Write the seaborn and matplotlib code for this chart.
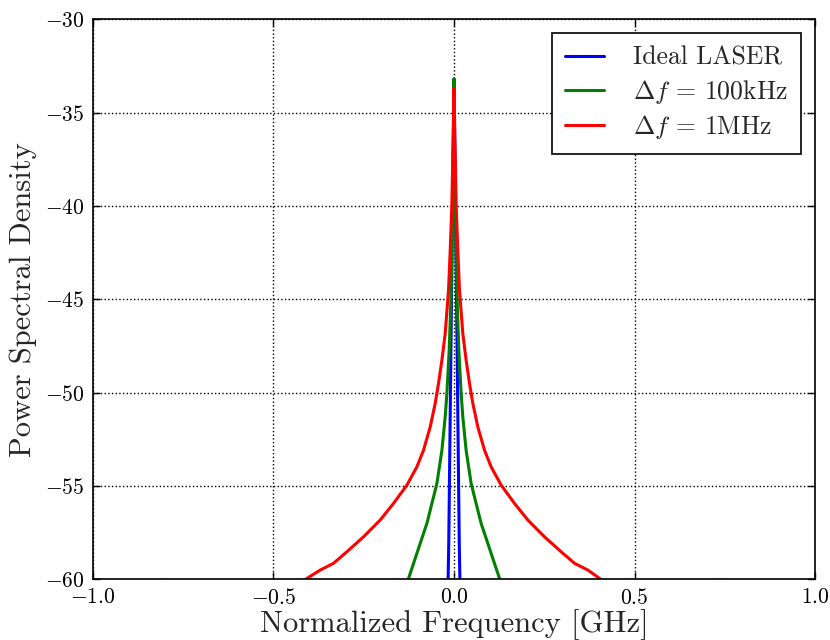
import matplotlib
matplotlib.use("Agg")
import matplotlib.pyplot as plt
import seaborn as sns
import pandas as pd
import numpy as np

# ---- data ----
ideal_f = [-0.019, -0.0145, -0.011, -0.007, -0.003, 0.0, 0.003, 0.007, 0.011, 0.0145, 0.019]
ideal_db = [-63.0, -58.0, -52.0, -45.0, -38.0, -33.2, -38.0, -45.0, -52.0, -58.0, -63.0]

g_f = [-0.135, -0.126, -0.112, -0.0936, -0.0751, -0.0612, -0.0474, -0.0335, -0.0244, -0.0197,
       -0.0133, -0.0086, -0.0058, -0.002, 0.0, 0.002, 0.0058, 0.0086, 0.0133, 0.0197, 0.0244,
       0.0335, 0.0474, 0.0612, 0.0751, 0.0936, 0.112, 0.126, 0.135]
g_db = [-60.5, -59.96, -59.15, -58.08, -57.01, -55.94, -54.87, -53.09, -51.30, -50.05,
        -47.73, -45.05, -42.37, -38.0, -33.2, -38.0, -42.37, -45.05, -47.73, -50.05, -51.30,
        -53.09, -54.87, -55.94, -57.01, -58.08, -59.15, -59.96, -60.5]

r_f = [-0.42, -0.4075, -0.3706, -0.3338, -0.2967, -0.2507, -0.2044, -0.1676, -0.1305, -0.1028,
       -0.0845, -0.0659, -0.0521, -0.0429, -0.0335, -0.0244, -0.0152, -0.0105, -0.006, -0.002,
       0.0, 0.002, 0.006, 0.0105, 0.0152, 0.0244, 0.0335, 0.0429, 0.0521, 0.0659, 0.0845,
       0.1028, 0.1305, 0.1676, 0.2044, 0.2507, 0.2967, 0.3338, 0.3706, 0.4035, 0.415]
r_db = [-60.2, -59.96, -59.51, -59.15, -58.53, -57.73, -56.83, -55.94, -54.96, -53.98,
        -53.09, -51.84, -50.58, -49.51, -48.26, -46.84, -44.52, -42.37, -40.0, -36.0,
        -33.7, -36.0, -40.0, -42.37, -44.52, -46.84, -48.26, -49.51, -50.58, -51.84, -53.09,
        -53.98, -54.96, -55.94, -56.83, -57.73, -58.53, -59.15, -59.51, -59.96, -60.2]

labels = ["Ideal LASER", r"$\Delta f$ = 100kHz", r"$\Delta f$ = 1MHz"]
colors = ["#0000ff", "#008000", "#ff0000"]

df = pd.concat([
    pd.DataFrame({"f": ideal_f, "db": ideal_db, "s": labels[0]}),
    pd.DataFrame({"f": g_f, "db": g_db, "s": labels[1]}),
    pd.DataFrame({"f": r_f, "db": r_db, "s": labels[2]}),
], ignore_index=True)

sns.set_style("white")
plt.rcParams["font.family"] = ["cmr10", "DejaVu Serif"]
plt.rcParams["mathtext.fontset"] = "cm"
plt.rcParams["axes.formatter.use_mathtext"] = True
plt.rcParams["axes.unicode_minus"] = True

fig = plt.figure(figsize=(8.3, 6.4), dpi=100)
ax = fig.add_axes([0.112, 0.095, 0.870, 0.875])

sns.lineplot(data=df, x="f", y="db", hue="s", hue_order=labels, palette=colors,
             estimator=None, sort=False, linewidth=2.2, ax=ax)

ax.set_xlim(-1, 1)
ax.set_ylim(-60, -30)
ax.set_xticks([-1.0, -0.5, 0.0, 0.5, 1.0])
ax.set_xticklabels([r"$-1.0$", r"$-0.5$", r"$0.0$", r"$0.5$", r"$1.0$"])
ax.set_yticks([-60, -55, -50, -45, -40, -35, -30])
ax.set_yticklabels([r"$-60$", r"$-55$", r"$-50$", r"$-45$", r"$-40$", r"$-35$", r"$-30$"])
ax.tick_params(direction="in", length=5, width=1, labelsize=15.5, top=True, right=True,
               bottom=True, left=True, colors="black", pad=6)
ax.grid(True, color="black", linestyle=":", linewidth=1)
for sp in ax.spines.values():
    sp.set_visible(True)
    sp.set_color("black")
    sp.set_linewidth(1.2)

ax.set_xlabel("Normalized Frequency [GHz]", fontsize=22, labelpad=1)
ax.set_ylabel("Power Spectral Density", fontsize=22, labelpad=6)

leg = ax.legend(loc="upper right", fontsize=18.5, frameon=True, fancybox=False,
                edgecolor="black", framealpha=1, handlelength=1.5, borderpad=0.5,
                borderaxespad=0.55, handletextpad=1.15, labelspacing=0.3)
leg.get_frame().set_linewidth(1.2)

fig.savefig("out.png", dpi=100)
